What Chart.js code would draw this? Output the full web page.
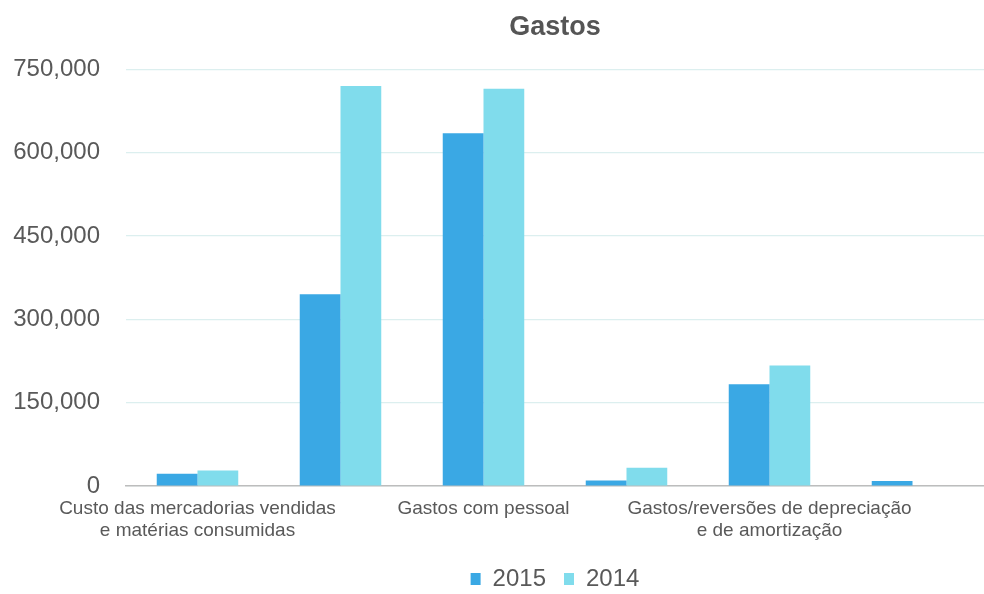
<!DOCTYPE html>
<html>
<head>
<meta charset="utf-8">
<script src="https://cdn.jsdelivr.net/npm/chart.js@4/dist/chart.umd.min.js"></script>
<style>
  html, body { margin: 0; padding: 0; background: #ffffff; overflow: hidden; }
  #wrap { width: 984px; height: 594px; position: relative; overflow: hidden; }
  #c { position: absolute; left: 0; top: 0; }
</style>
</head>
<body>
<div id="wrap"><canvas id="c" width="984" height="601"></canvas></div>
<script>
const chartTitle = "Gastos";
const categories = [
  ["Custo das mercadorias vendidas", "e matérias consumidas"],
  "",
  "Gastos com pessoal",
  "",
  ["Gastos/reversões de depreciação", "e de amortização"],
  ""
];
const seriesNames = ["2015", "2014"];
const values2015 = [22000, 345000, 635000, 10000, 183000, 9000];
const values2014 = [28000, 720000, 715000, 33000, 217000, 0];
const yTicks = [0, 150000, 300000, 450000, 600000, 750000];

const FONT = "'Liberation Sans', Arial, sans-serif";
const TEXT = "#595959";

new Chart(document.getElementById("c"), {
  type: "bar",
  data: {
    labels: categories,
    datasets: [
      { label: seriesNames[0], data: values2015, backgroundColor: "#3aa8e4" },
      { label: seriesNames[1], data: values2014, backgroundColor: "#80dcec" }
    ]
  },
  options: {
    responsive: false,
    animation: false,
    layout: { autoPadding: false, padding: { top: 8, bottom: 0, left: 8, right: 0 } },
    datasets: { bar: { categoryPercentage: 0.57, barPercentage: 1.0 } },
    plugins: {
      title: {
        display: true, text: chartTitle, fullSize: false,
        color: "#555555",
        font: { family: FONT, size: 27, weight: "bold" },
        padding: { top: 3, bottom: 26 }
      },
      legend: {
        position: "bottom", fullSize: false,
        labels: {
          color: TEXT, boxWidth: 10, boxHeight: 12, padding: 18,
          font: { family: FONT, size: 24 }
        }
      },
      tooltip: { enabled: false }
    },
    scales: {
      x: {
        afterFit: (s) => { s.height = 63; s.paddingLeft = 0; s.paddingRight = 0; },
        grid: { display: false, drawTicks: false },
        border: { display: true, color: "#bdbdbd", width: 1.5 },
        ticks: {
          autoSkip: false, maxRotation: 0, minRotation: 0,
          color: TEXT, padding: 11,
          font: { family: FONT, size: 19 }
        }
      },
      y: {
        min: 0, max: 750000,
        afterBuildTicks: (axis) => { axis.ticks = yTicks.map(v => ({ value: v })); },
        afterFit: (s) => { s.width = 118; },
        grid: { color: "#dcefef", lineWidth: 1.2, drawTicks: false },
        border: { display: false },
        ticks: {
          color: TEXT, padding: 26,
          font: { family: FONT, size: 24 },
          callback: (v) => Number(v).toLocaleString("en-US")
        }
      }
    }
  }
});
</script>
</body>
</html>
